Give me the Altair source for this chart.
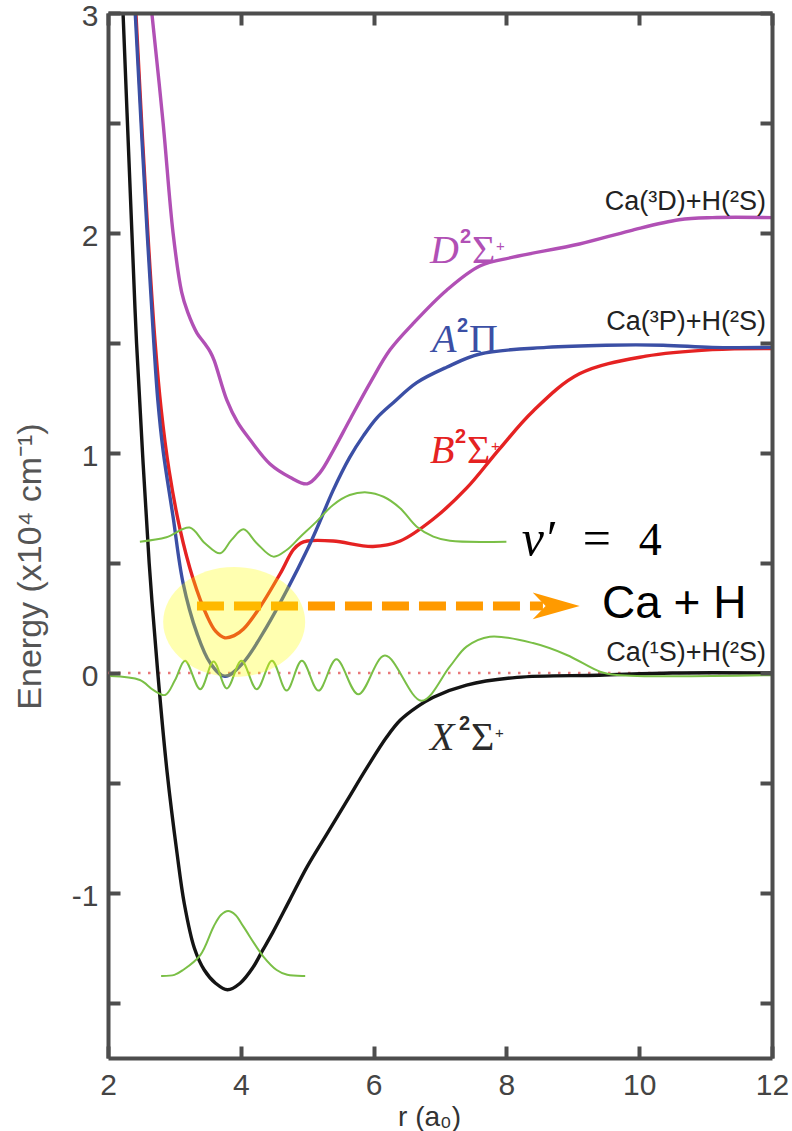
import altair as alt
import pandas as pd

# ---------------- data (r in a0, energy in 10^4 cm^-1) ----------------
X_r = [2.20, 2.36, 2.43, 2.52, 2.62, 2.75, 2.89, 3.04, 3.15, 3.30, 3.45, 3.62, 3.80, 3.99, 4.18, 4.33,
       4.48, 4.74, 5.00, 5.30, 5.60, 5.90, 6.20, 6.40, 6.65, 6.90, 7.40, 8.16, 9.40, 10.5, 12.0]
X_E = [3.20, 2.00, 1.50, 1.00, 0.50, 0.00, -0.45, -0.82, -1.05, -1.25, -1.35, -1.41, -1.44, -1.41, -1.34, -1.26,
       -1.18, -1.03, -0.88, -0.73, -0.58, -0.43, -0.29, -0.215, -0.155, -0.11, -0.055, -0.02, -0.01, 0.0, 0.0]

A_r = [2.38, 2.41, 2.59, 2.69, 2.75, 2.83, 2.98, 3.13, 3.34, 3.54, 3.76, 4.03, 4.39, 4.70, 5.00, 5.15,
       5.39, 5.64, 5.85, 6.05, 6.30, 6.65, 7.10, 7.60, 8.60, 9.50, 10.36, 11.1, 12.0]
A_E = [3.20, 3.00, 2.00, 1.50, 1.24, 1.01, 0.71, 0.41, 0.18, 0.045, -0.015, 0.045, 0.21, 0.38, 0.56, 0.66,
       0.83, 0.98, 1.08, 1.16, 1.23, 1.32, 1.39, 1.45, 1.48, 1.49, 1.49, 1.48, 1.48]

B_r = [2.39, 2.42, 2.60, 2.71, 2.80, 2.92, 3.08, 3.28, 3.49, 3.62, 3.76, 3.90, 4.04, 4.29, 4.59, 4.79,
       4.90, 5.00, 5.39, 5.99, 6.40, 6.90, 7.40, 7.90, 8.40, 9.10, 10.1, 11.1, 12.0]
B_E = [3.20, 3.00, 2.00, 1.50, 1.20, 0.92, 0.66, 0.43, 0.26, 0.19, 0.16, 0.17, 0.20, 0.30, 0.45, 0.56,
       0.59, 0.60, 0.60, 0.575, 0.60, 0.70, 0.84, 1.02, 1.19, 1.36, 1.44, 1.47, 1.475]

D_r = [2.59, 2.66, 2.83, 2.98, 3.11, 3.20, 3.34, 3.45, 3.54, 3.60, 3.79, 3.95, 4.14, 4.44, 4.74, 5.00,
       5.19, 5.39, 5.64, 5.95, 6.25, 6.60, 7.10, 7.60, 8.10, 9.10, 9.86, 10.6, 11.1, 12.0]
D_E = [3.20, 3.00, 2.50, 2.00, 1.73, 1.64, 1.545, 1.50, 1.46, 1.42, 1.24, 1.14, 1.06, 0.95, 0.89, 0.86,
       0.91, 1.01, 1.15, 1.32, 1.47, 1.59, 1.74, 1.85, 1.89, 1.95, 2.01, 2.06, 2.07, 2.07]

# vibrational wavefunctions
G0_r = [2.80, 3.00, 3.13, 3.39, 3.59, 3.70, 3.81, 3.92, 4.04, 4.34, 4.54, 4.70, 4.97]
G0_E = [-1.377, -1.372, -1.35, -1.282, -1.153, -1.10, -1.082, -1.10, -1.153, -1.289, -1.35, -1.372, -1.377]

G4_r = [2.48, 2.88, 3.23, 3.46, 3.69, 3.86, 4.04, 4.24, 4.49, 4.69, 4.89, 5.14, 5.39, 5.64, 5.90,
        6.15, 6.40, 6.65, 6.90, 7.15, 8.00]
G4_E = [0.597, 0.617, 0.661, 0.59, 0.544, 0.605, 0.653, 0.59, 0.529, 0.559, 0.617, 0.688, 0.764, 0.809, 0.821,
        0.801, 0.749, 0.665, 0.62, 0.601, 0.597]

GX_r = [2.03, 2.48, 2.68, 2.86, 3.01, 3.16, 3.39, 3.59, 3.79, 4.01, 4.24, 4.47, 4.69, 4.92, 5.17, 5.44,
        5.77, 6.17, 6.72, 7.15, 7.40, 7.75, 8.40, 8.91, 9.41, 9.66, 12.0]
GX_E = [-0.014, -0.032, -0.077, -0.10, -0.032, 0.056, -0.074, 0.052, -0.07, 0.056, -0.074, 0.056, -0.08, 0.056,
        -0.08, 0.062, -0.097, 0.079, -0.126, 0.03, 0.12, 0.165, 0.136, 0.082, 0.006, -0.009, -0.01]

ZERO_r = [2.0, 12.0]
ZERO_E = [0.0, 0.0]

ARROW_r = [3.34, 8.55]
ARROW_E = [0.305, 0.305]
HEAD_r = [8.75]
HEAD_E = [0.305]

ELLIPSE_r = [3.90]
ELLIPSE_E = [0.232]

# asymptote labels
ASYM_text = ["Ca(³D)+H(²S)", "Ca(³P)+H(²S)", "Ca(¹S)+H(²S)"]
ASYM_r = [11.91, 11.91, 11.91]
ASYM_E = [2.105, 1.56, 0.055]

# state labels
STATE_letter = ["D", "A", "B", "X"]
STATE_sym = ["Σ", "Π", "Σ", "Σ"]
STATE_plus = ["+", "", "+", "+"]
STATE_r = [6.85, 6.85, 6.85, 6.85]
STATE_E = [1.864, 1.459, 0.955, -0.35]

CAH_text = ["Ca + H"]
CAH_r = [9.44]
CAH_E = [0.25]

VP_r = [8.23]
VP_E = [0.536]

X_TICKS = [2, 4, 6, 8, 10, 12]
Y_TICKS = [-1.5, -1.0, -0.5, 0.0, 0.5, 1.0, 1.5, 2.0, 2.5, 3.0]
Y_LABELS = [-1, 0, 1, 2, 3]

# ---------------- styling ----------------
W, H = 664, 1045
AX = "#4d4d4d"
SANS = "Liberation Sans"
SERIF = "Liberation Serif"
xs = alt.Scale(domain=[2, 12], nice=False, zero=False)
ys = alt.Scale(domain=[-1.75, 3.0], nice=False, zero=False)


def df(r, e, **extra):
    d = {"r": r, "E": e}
    d.update(extra)
    return pd.DataFrame(d)


def X(axis=None):
    return alt.X("r:Q", scale=xs, axis=axis)


def Y(axis=None):
    return alt.Y("E:Q", scale=ys, axis=axis)


x_main = alt.Axis(orient="bottom", values=X_TICKS, ticks=False, tickSize=0, domain=True, domainWidth=4,
                  domainColor=AX, grid=False, labelFont=SANS, labelFontSize=30, labelColor="#444444",
                  labelPadding=12, labelFlush=False, labelExpr="datum.value + ''",
                  title="r (a₀)", titleFont=SANS, titleFontSize=28, titleFontWeight="normal",
                  titleColor="#333333", titleX=321, titleY=67, titleAlign="center",
                  titleBaseline="alphabetic")
y_main = alt.Axis(orient="left", values=Y_LABELS, ticks=False, tickSize=0, domain=True, domainWidth=4,
                  domainColor=AX, grid=False, labelFont=SANS, labelFontSize=30, labelColor="#444444",
                  labelPadding=10, labelOffset=3, labelFlush=False, labelExpr="datum.value + ''",
                  title="Energy (x10⁴ cm⁻¹)", titleFont=SANS, titleFontSize=34, titleFontWeight="normal",
                  titleColor="#555555", titleAngle=270, titleX=-78, titleY=553, titleAlign="center",
                  titleBaseline="middle")


def tick_axis(orient, offset, values, domain):
    return alt.Axis(orient=orient, offset=offset, values=values, labels=False, ticks=True, tickSize=12,
                    tickWidth=4, tickColor=AX, domain=domain, domainWidth=4, domainColor=AX, grid=False,
                    title=None, zindex=1)


zero_df = df(ZERO_r, ZERO_E)

layers = []
# dotted zero line carrying main axes
layers.append(alt.Chart(zero_df).mark_line(color="#e8787a", strokeWidth=2.5, strokeDash=[2.5, 7.5]).encode(
    x=X(x_main), y=Y(y_main)))

# potential curves
for r, e, c in [(D_r, D_E, "#b150b5"), (B_r, B_E, "#e52222"), (A_r, A_E, "#3b4fa5"), (X_r, X_E, "#141414")]:
    layers.append(alt.Chart(df(r, e)).mark_line(color=c, strokeWidth=3.4, interpolate="catmull-rom",
                                                clip=True).encode(x=X(), y=Y()))

# wavefunctions
for r, e in [(G0_r, G0_E), (G4_r, G4_E), (GX_r, GX_E)]:
    layers.append(alt.Chart(df(r, e)).mark_line(color="#7abf46", strokeWidth=2, interpolate="catmull-rom",
                                                clip=True).encode(x=X(), y=Y()))

# dashed arrow
layers.append(alt.Chart(df(ARROW_r, ARROW_E)).mark_line(color="#ff9a00", strokeWidth=9,
                                                        strokeDash=[27, 10]).encode(x=X(), y=Y()))
HEAD_PATH = "M 1 0 L -1 -0.567 L -0.45 0 L -1 0.567 Z"
layers.append(alt.Chart(df(HEAD_r, HEAD_E)).mark_point(shape=HEAD_PATH, size=2209, filled=True,
                                                       color="#ff9a00", opacity=1, strokeWidth=0).encode(
    x=X(), y=Y()))

# highlight ellipse
ELL_PATH = ("M -1 0 C -1 -0.428 -0.552 -0.775 0 -0.775 C 0.552 -0.775 1 -0.428 1 0 "
            "C 1 0.428 0.552 0.775 0 0.775 C -0.552 0.775 -1 0.428 -1 0 Z")
layers.append(alt.Chart(df(ELLIPSE_r, ELLIPSE_E)).mark_point(shape=ELL_PATH, size=20164, filled=True,
                                                             color="#ffff00", opacity=0.31,
                                                             strokeWidth=0).encode(x=X(), y=Y()))


def txt(data, size, font, color, dx=0, dy=0, style="normal", weight="normal", align="left"):
    return alt.Chart(data).mark_text(align=align, baseline="alphabetic", dx=dx, dy=dy, fontSize=size,
                                     font=font, fontStyle=style, fontWeight=weight, color=color).encode(
        x=X(), y=Y(), text="t:N")


# asymptote labels
layers.append(txt(df(ASYM_r, ASYM_E, t=ASYM_text), 27, SANS, "#222222", align="right"))

# state labels (letter, bold superscript 2, Greek symbol, small +), placed side by side
STATE_color = ["#b150b5", "#3b4fa5", "#e52222", "#2b2b2b"]
LETTER_dx = [0, 2, 0, 0]
TWO_dx = [30, 27, 25, 29]
SYM_dx = [42, 39, 37, 41]
PLUS_dx = [66, 0, 61, 65]
for i in range(4):
    one = lambda t: df([STATE_r[i]], [STATE_E[i]], t=[t])
    col = STATE_color[i]
    layers.append(txt(one(STATE_letter[i]), 40, SERIF, col, dx=LETTER_dx[i], style="italic"))
    layers.append(txt(one("2"), 20, SANS, col, dx=TWO_dx[i], dy=-20, weight="bold"))
    layers.append(txt(one(STATE_sym[i]), 40, SERIF, col, dx=SYM_dx[i]))
    if STATE_plus[i]:
        layers.append(txt(one(STATE_plus[i]), 15, SANS, col, dx=PLUS_dx[i], dy=-12))

# v' = 4
layers.append(txt(df(VP_r, VP_E, t=["v′"]), 50, SERIF, "#000000", style="italic"))
layers.append(txt(df(VP_r, VP_E, t=["="]), 50, SERIF, "#000000", dx=61))
layers.append(txt(df(VP_r, VP_E, t=["4"]), 46, SERIF, "#000000", dx=117))

# Ca + H
layers.append(txt(df(CAH_r, CAH_E, t=CAH_text), 46, SANS, "#000000"))

# inward ticks / frame
for xa, ya in [(tick_axis("top", -H, X_TICKS, False), None),
               (tick_axis("bottom", -H, X_TICKS, True), None),
               (None, tick_axis("right", -W, Y_TICKS, False)),
               (None, tick_axis("left", -W, Y_TICKS, True))]:
    layers.append(alt.Chart(zero_df).mark_line(opacity=0).encode(x=X(xa), y=Y(ya)))

chart = alt.layer(*layers).resolve_axis(x="independent", y="independent").properties(
    width=W, height=H,
    padding={"left": 108, "top": 13, "right": 20, "bottom": 73},
    autosize=alt.AutoSizeParams(type="none"),
).configure_view(strokeWidth=0).configure(font=SANS)

chart.save("out.html", embed_options={"renderer": "svg", "actions": False})
